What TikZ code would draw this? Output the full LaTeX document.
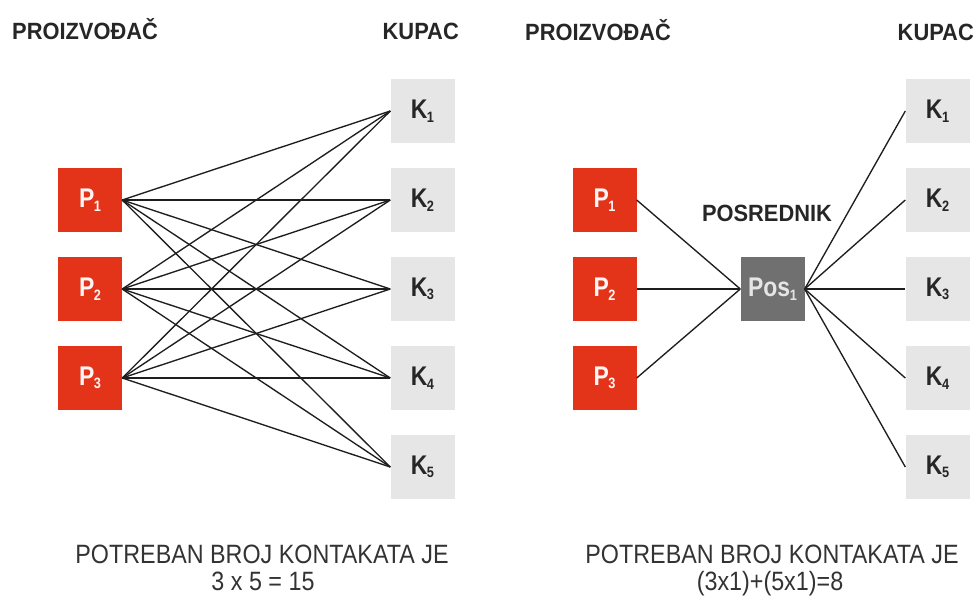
\documentclass[tikz,border=0pt]{standalone}
\usepackage{fontspec}
\setmainfont{Liberation Sans}
\newfontfamily\hdrfont{Liberation Sans}[FakeStretch=0.93]
\newfontfamily\lblfont{Liberation Sans}[FakeStretch=0.85]
\newfontfamily\btmfont{Liberation Sans}[FakeStretch=0.88]
\definecolor{pred}{HTML}{E3341A}
\definecolor{kgray}{HTML}{E6E6E6}
\definecolor{posgray}{HTML}{707070}
\definecolor{ln}{HTML}{1E1E1E}
\newcommand\lsub[1]{\kern-0.5pt\raisebox{-3.5pt}{\fontsize{15}{15}\selectfont #1}}
\tikzset{
  pbox/.style={rectangle, fill=pred, minimum size=64pt, inner sep=0pt, text=white!95!pred, font=\lblfont\bfseries\fontsize{27}{27}\selectfont},
  kbox/.style={rectangle, fill=kgray, minimum size=64pt, inner sep=0pt, text=black!85, font=\lblfont\bfseries\fontsize{27}{27}\selectfont},
  posbox/.style={rectangle, fill=posgray, minimum size=64pt, inner sep=0pt, text=black!10, font=\lblfont\bfseries\fontsize{27}{27}\selectfont},
  hdr/.style={inner sep=0pt, text=black!85, font=\hdrfont\bfseries\fontsize{23.5}{28}\selectfont},
  btm/.style={inner sep=0pt, text=black!80, align=center, font=\btmfont\fontsize{26.5}{27}\selectfont},
  conn/.style={draw=ln, line width=1.35pt}
}
\begin{document}
\begin{tikzpicture}[x=1pt,y=-1pt]
\useasboundingbox (0,0) rectangle (977,603);
% ---------- left ----------
\node[hdr, anchor=base west] (hl1) at (12,39) {PROIZVOĐAČ};
\node[hdr, anchor=base east] (hl2) at (459,39) {KUPAC};
\node[pbox] (lp1) at (90,200) {P\lsub{1}};
\node[pbox] (lp2) at (90,289) {P\lsub{2}};
\node[pbox] (lp3) at (90,378) {P\lsub{3}};
\node[kbox] (lk1) at (422.5,111) {K\lsub{1}};
\node[kbox] (lk2) at (422.5,200) {K\lsub{2}};
\node[kbox] (lk3) at (422.5,289) {K\lsub{3}};
\node[kbox] (lk4) at (422.5,378) {K\lsub{4}};
\node[kbox] (lk5) at (422.5,467) {K\lsub{5}};
\foreach \p in {1,2,3}{
  \foreach \k in {1,...,5}{
    \draw[conn] (lp\p.east) -- (lk\k.west);
  }
}
\node[btm, anchor=base] (bl1) at (262,563) {POTREBAN BROJ KONTAKATA JE};
\node[btm, anchor=base] (bl2) at (263,590) {3 x 5 = 15};
% ---------- right ----------
\node[hdr, anchor=base west] (hr1) at (525,40) {PROIZVOĐAČ};
\node[hdr, anchor=base east] (hr2) at (974,40) {KUPAC};
\node[pbox] (rp1) at (604.5,200) {P\lsub{1}};
\node[pbox] (rp2) at (604.5,289) {P\lsub{2}};
\node[pbox] (rp3) at (604.5,378) {P\lsub{3}};
\node[posbox] (pos) at (772.5,289) {Pos\lsub{1}};
\node[hdr, anchor=base] (posl) at (767,221) {POSREDNIK};
\node[kbox] (rk1) at (937.5,111) {K\lsub{1}};
\node[kbox] (rk2) at (937.5,200) {K\lsub{2}};
\node[kbox] (rk3) at (937.5,289) {K\lsub{3}};
\node[kbox] (rk4) at (937.5,378) {K\lsub{4}};
\node[kbox] (rk5) at (937.5,467) {K\lsub{5}};
\foreach \p in {1,2,3}{
  \draw[conn] (rp\p.east) -- (pos.west);
}
\foreach \k in {1,...,5}{
  \draw[conn] (pos.east) -- (rk\k.west);
}
\node[btm, anchor=base] (br1) at (772,563) {POTREBAN BROJ KONTAKATA JE};
\node[btm, anchor=base] (br2) at (770,590) {(3x1)+(5x1)=8};
\end{tikzpicture}
\end{document}
